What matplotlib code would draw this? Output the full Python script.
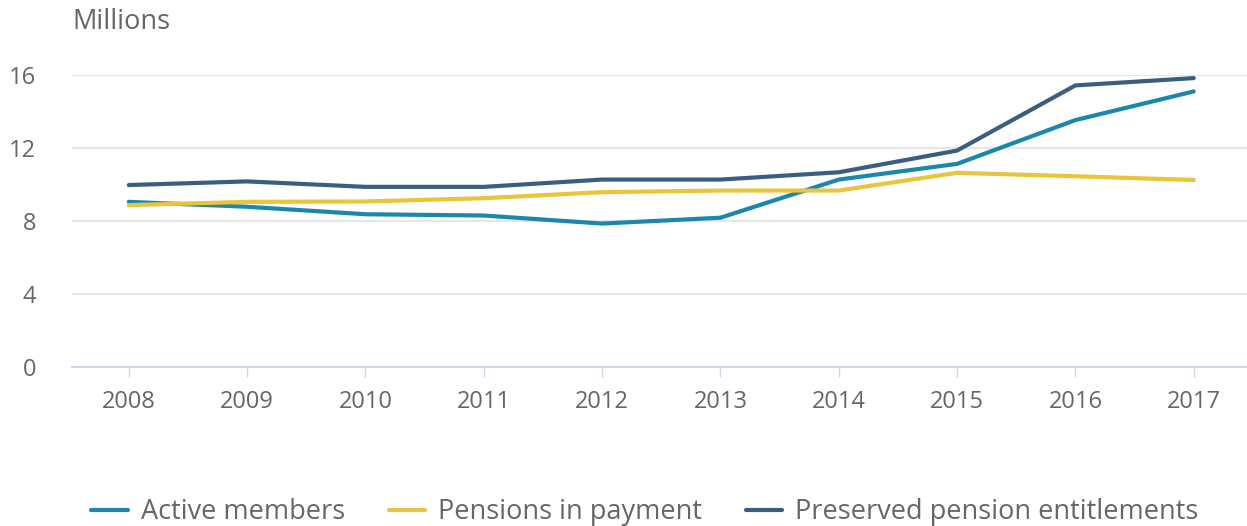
import matplotlib
matplotlib.use("Agg")
from matplotlib import pyplot as plt

# Data (millions)
years = [2008, 2009, 2010, 2011, 2012, 2013, 2014, 2015, 2016, 2017]
active_members = [9.05, 8.78, 8.37, 8.3, 7.86, 8.18, 10.27, 11.13, 13.53, 15.1]
pensions_in_payment = [8.87, 9.05, 9.07, 9.25, 9.58, 9.67, 9.67, 10.64, 10.45, 10.25]
preserved_entitlements = [9.97, 10.17, 9.87, 9.87, 10.27, 10.27, 10.67, 11.86, 15.43, 15.83]

labels = ["Active members", "Pensions in payment", "Preserved pension entitlements"]
colors = ["#1b87ae", "#e8c53a", "#3b5e80"]

plt.rcParams["font.family"] = ["Open Sans", "DejaVu Sans"]
text_grey = "#666666"

fig = plt.figure(figsize=(12.47, 5.26), dpi=100)
ax = fig.add_axes([72 / 1247, 159 / 526, 1175 / 1247, 292 / 526])

for values, label, color in zip([active_members, pensions_in_payment, preserved_entitlements], labels, colors):
    ax.plot(years, values, color=color, lw=3, label=label,
            solid_capstyle="round", solid_joinstyle="round", clip_on=False)

ax.set_xlim(2007.52, 2017.45)
ax.set_ylim(0, 16)
ax.set_xticks(years)
ax.set_yticks([0, 4, 8, 12, 16])

ax.grid(axis="y", color="#e6e6e6", lw=1.5)
ax.set_axisbelow(True)
for side in ["top", "right", "left"]:
    ax.spines[side].set_visible(False)
ax.spines["bottom"].set_color("#ccd6eb")
ax.spines["bottom"].set_linewidth(1.5)

ax.tick_params(axis="x", length=7.5, width=1, color="#ccd6eb", pad=9,
               labelsize=17, labelcolor=text_grey)
ax.tick_params(axis="y", length=0, pad=26, labelsize=17, labelcolor=text_grey)

fig.text(72 / 1247, 1 - 22 / 526, "Millions", fontsize=19.5, color=text_grey,
         ha="left", va="center")

fig.legend(loc="center", bbox_to_anchor=(0.517, 0.026), ncol=3, frameon=False,
           fontsize=19.5, labelcolor=text_grey, handlelength=1.33,
           handletextpad=0.48, columnspacing=1.62)

plt.savefig("out.png", dpi=100)
